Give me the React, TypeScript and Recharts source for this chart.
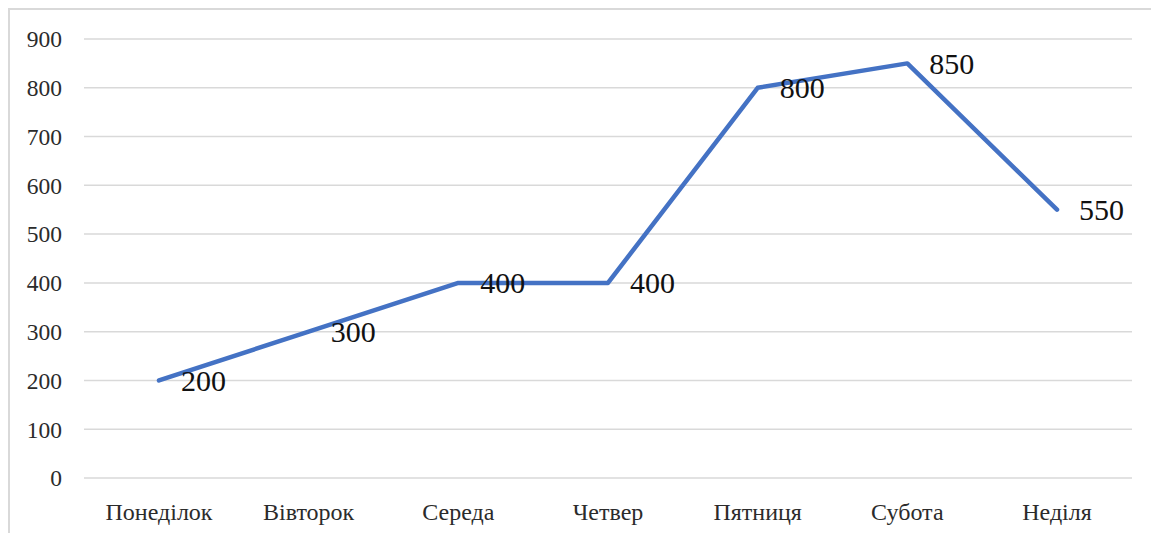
import React from "react";
import { LineChart, Line, XAxis, YAxis, CartesianGrid, LabelList } from "recharts";

const categories = ["Понеділок", "Вівторок", "Середа", "Четвер", "Пятниця", "Субота", "Неділя"];
const values = [200, 300, 400, 400, 800, 850, 550];
const yTicks = [0, 100, 200, 300, 400, 500, 600, 700, 800, 900];

const data = categories.map((c, i) => ({ name: c, value: values[i] }));

const FONT = '"Liberation Serif", "Times New Roman", serif';

const ValueLabel = (props: any) => {
  const { x, y, value } = props;
  return (
    <text
      x={Number(x) + 22}
      y={Number(y)}
      dy="0.35em"
      textAnchor="start"
      style={{ fontFamily: FONT, fontSize: 30, fill: "#111" }}
    >
      {value}
    </text>
  );
};

export default function App() {
  return (
    <div
      style={{
        width: 1149,
        height: 523,
        borderTop: "2px solid #d9d9d9",
        borderLeft: "2px solid #d9d9d9",
        background: "#fff",
        overflow: "hidden",
        fontFamily: FONT,
      }}
    >
      <LineChart
        width={1149}
        height={523}
        data={data}
        margin={{ top: 29, right: 27, bottom: 10, left: 14 }}
      >
        <CartesianGrid vertical={false} stroke="#d9d9d9" strokeWidth={1.5} />
        <XAxis
          dataKey="name"
          axisLine={false}
          tickLine={false}
          height={45}
          tickMargin={19}
          interval={0}
          padding={{ left: 75, right: 75 }}
          tick={{ fontFamily: FONT, fontSize: 24, fill: "#2b2b2b" }}
        />
        <YAxis
          domain={[0, 900]}
          ticks={yTicks}
          axisLine={false}
          tickLine={false}
          width={60}
          tickMargin={16}
          tick={{ fontFamily: FONT, fontSize: 23.5, fill: "#2b2b2b" }}
        />
        <Line
          type="linear"
          dataKey="value"
          stroke="#4472C4"
          strokeWidth={4.5}
          strokeLinecap="round"
          strokeLinejoin="round"
          dot={false}
          activeDot={false}
          isAnimationActive={false}
        >
          <LabelList dataKey="value" content={ValueLabel} />
        </Line>
      </LineChart>
    </div>
  );
}
